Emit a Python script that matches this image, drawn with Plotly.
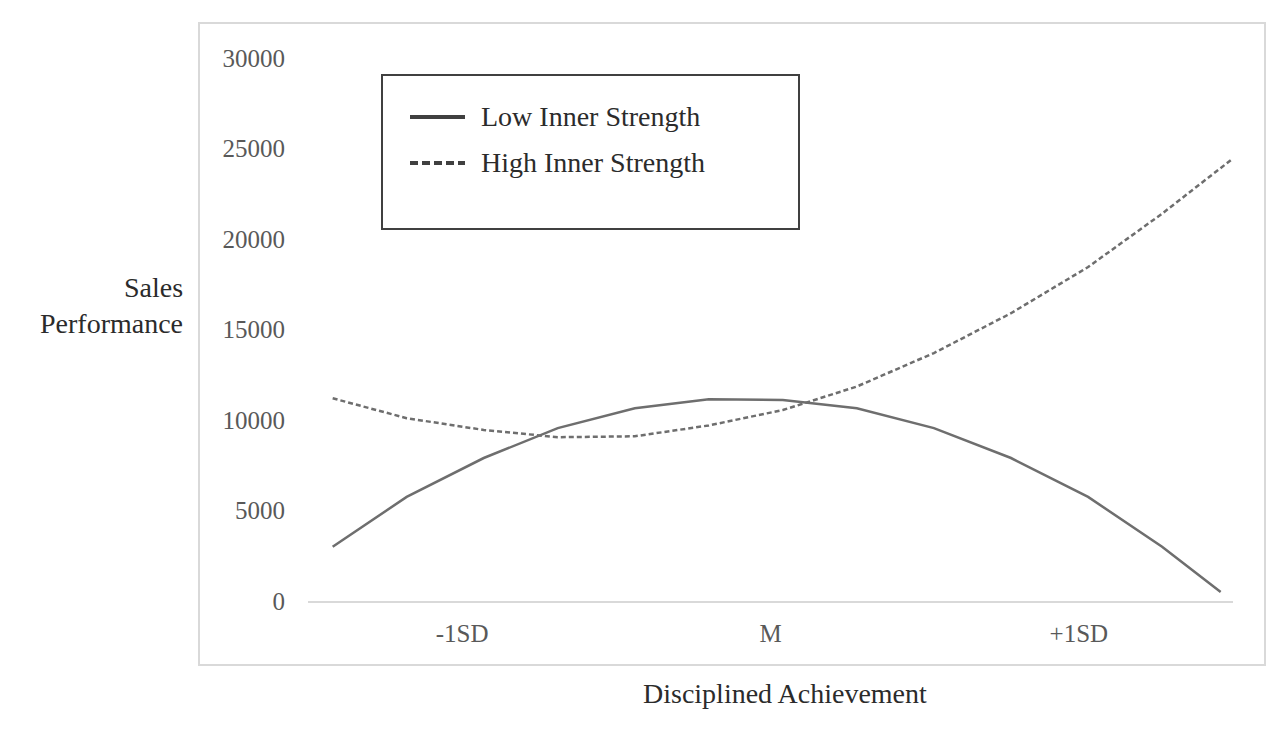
import plotly.graph_objects as go

# Values (x in SD units, y = sales performance)
x_low = [-1.42, -1.18, -0.93, -0.69, -0.44, -0.20, 0.04, 0.28, 0.53, 0.78, 1.03, 1.27, 1.46]
low_inner = [3000, 5750, 7900, 9550, 10650, 11150, 11100, 10650, 9550, 7900, 5750, 3000, 500]

x_high = [-1.42, -1.18, -0.93, -0.69, -0.44, -0.20, 0.04, 0.28, 0.53, 0.78, 1.03, 1.27, 1.50]
high_inner = [11200, 10100, 9450, 9050, 9100, 9700, 10550, 11850, 13700, 15900, 18450, 21400, 24450]

tick_vals = [-1, 0, 1]
tick_text = ['-1SD', 'M', '+1SD']
series_names = ['Low Inner Strength', 'High Inner Strength']

FONT = 'Liberation Serif'
TICK_COLOR = '#595959'
TEXT_COLOR = '#2b2b2b'
LINE_COLOR = '#6e6e6e'
LEGEND_LINE = '#404040'

# page places the figure 8px in from the top-left corner
OFF = 8
PX0, PX1 = 308 - OFF, 1233 - OFF   # plot area x extent in figure pixels
PY0, PY1 = 58 - OFF, 601 - OFF     # plot area y extent (top, bottom)
PW, PH = PX1 - PX0, PY1 - PY0


def px(x):
    return (x - OFF - PX0) / PW


def py(y):
    return (PY1 - (y - OFF)) / PH


fig = go.Figure()

# Data lines
fig.add_trace(go.Scatter(
    x=x_low, y=low_inner, mode='lines',
    line=dict(color=LINE_COLOR, width=2.5),
    showlegend=False, name=series_names[0]
))
fig.add_trace(go.Scatter(
    x=x_high, y=high_inner, mode='lines',
    line=dict(color=LINE_COLOR, width=2.5, dash='5px,3px'),
    showlegend=False, name=series_names[1]
))

# Outer chart border
fig.add_shape(
    type='rect', xref='paper', yref='paper',
    x0=px(199), x1=px(1265), y0=py(665), y1=py(23),
    line=dict(color='#d9d9d9', width=2), fillcolor='rgba(0,0,0,0)',
    layer='below'
)

# Legend box (drawn by hand so the samples can be as long as the reference)
fig.add_shape(
    type='rect', xref='paper', yref='paper',
    x0=px(382), x1=px(799), y0=py(229), y1=py(75),
    line=dict(color=LEGEND_LINE, width=2), fillcolor='white',
    layer='below'
)
legend_rows = [(117, 'solid'), (163, '8px,4px')]
for name, (row_y, dash) in zip(series_names, legend_rows):
    fig.add_shape(
        type='line', xref='paper', yref='paper',
        x0=px(410), x1=px(465), y0=py(row_y), y1=py(row_y),
        line=dict(color=LEGEND_LINE, width=4, dash=dash)
    )
    fig.add_annotation(
        text=name, xref='paper', yref='paper',
        x=px(479), y=py(row_y),
        xanchor='left', yanchor='middle', showarrow=False,
        font=dict(family=FONT, size=28, color=TEXT_COLOR)
    )

# Y axis title
fig.add_annotation(
    text='Sales<br>Performance',
    xref='paper', yref='paper',
    x=px(185), y=py(305),
    xanchor='right', yanchor='middle', align='right',
    showarrow=False,
    font=dict(family=FONT, size=28, color=TEXT_COLOR)
)

# X axis title
fig.add_annotation(
    text='Disciplined Achievement',
    xref='paper', yref='paper',
    x=px(785), y=py(693),
    xanchor='center', yanchor='middle',
    showarrow=False,
    font=dict(family=FONT, size=28, color=TEXT_COLOR)
)

fig.update_layout(
    width=1285, height=737,
    margin=dict(l=PX0, r=1285 - PX1, t=PY0, b=737 - PY1),
    plot_bgcolor='white',
    paper_bgcolor='white',
    font=dict(family=FONT, color=TEXT_COLOR),
    showlegend=False,
    xaxis=dict(
        range=[-1.5, 1.5],
        tickmode='array', tickvals=tick_vals, ticktext=tick_text,
        showgrid=False, zeroline=False,
        showline=True, linecolor='#d9d9d9', linewidth=2,
        ticks='', ticklabelstandoff=9,
        tickfont=dict(family=FONT, size=25, color=TICK_COLOR)
    ),
    yaxis=dict(
        range=[0, 30000], dtick=5000, tick0=0, tickformat='d',
        showgrid=False, zeroline=False, showline=False,
        ticks='', ticklabelstandoff=22,
        tickfont=dict(family=FONT, size=25, color=TICK_COLOR)
    )
)

fig.write_html('out.html')
